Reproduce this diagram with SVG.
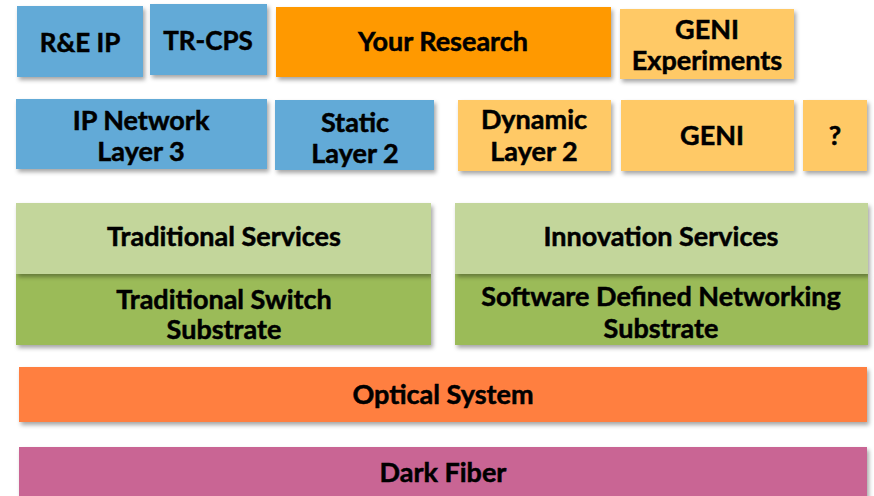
<svg xmlns="http://www.w3.org/2000/svg" width="874" height="496" viewBox="0 0 874 496">
<defs>
<filter id="sh" x="-10%" y="-20%" width="130%" height="150%">
<feDropShadow dx="2" dy="3" stdDeviation="2" flood-color="#000" flood-opacity="0.35"/>
</filter>
<style>
rect{filter:url(#sh)}
text{font-family:Lato,"Open Sans","Liberation Sans",sans-serif;font-weight:bold;font-size:27px;fill:#000;stroke:#000;stroke-width:0.5;text-anchor:middle}
.blue{fill:#62AAD7}
.or{fill:#FF9900}
.lo{fill:#FFC966}
.lg{fill:#C3D69B}
.dg{fill:#9BBB59}
.opt{fill:#FF7F40}
.df{fill:#C96594}
</style>
</defs>
<g id="re-ip"><rect class="blue" x="17" y="6" width="126" height="71"/><text x="80" y="52" style="font-size:26px">R&amp;E IP</text></g>
<g id="tr-cps"><rect class="blue" x="150" y="4" width="117" height="71"/><text x="208" y="50" style="font-size:26px">TR-CPS</text></g>
<g id="your-research"><rect class="or" x="276" y="7" width="335" height="70"/><text x="443" y="51">Your Research</text></g>
<g id="geni-experiments"><rect class="lo" x="620" y="9" width="174" height="70"/><text x="707" y="39">GENI</text><text x="707" y="70">Experiments</text></g>
<g id="ip-network"><rect class="blue" x="16" y="99" width="251" height="70"/><text x="141" y="130">IP Network</text><text x="141" y="161">Layer 3</text></g>
<g id="static-l2"><rect class="blue" x="275" y="100" width="159" height="70"/><text x="355" y="132">Static</text><text x="355" y="163">Layer 2</text></g>
<g id="dynamic-l2"><rect class="lo" x="458" y="100" width="153" height="71"/><text x="534" y="129">Dynamic</text><text x="534" y="161">Layer 2</text></g>
<g id="geni"><rect class="lo" x="621" y="100" width="173" height="71"/><text x="712" y="145">GENI</text></g>
<g id="unknown"><rect class="lo" x="803" y="100" width="64" height="71"/><text x="835" y="145">?</text></g>
<g id="trad-switch"><rect class="dg" x="16" y="274" width="415" height="71"/><text x="224" y="309">Traditional Switch</text><text x="224" y="339">Substrate</text></g>
<g id="trad-services"><rect class="lg" x="16" y="203" width="415" height="71"/><text x="224" y="246">Traditional Services</text></g>
<g id="sdn"><rect class="dg" x="455" y="274" width="413" height="71"/><text x="661" y="306">Software Defined Networking</text><text x="661" y="338">Substrate</text></g>
<g id="innov-services"><rect class="lg" x="455" y="203" width="413" height="71"/><text x="661" y="246">Innovation Services</text></g>
<g id="optical"><rect class="opt" x="19" y="367" width="848" height="55"/><text x="443" y="404">Optical System</text></g>
<g id="dark-fiber"><rect class="df" x="19" y="447" width="848" height="52"/><text x="443" y="482">Dark Fiber</text></g>
<g id="connectors"/>
</svg>
